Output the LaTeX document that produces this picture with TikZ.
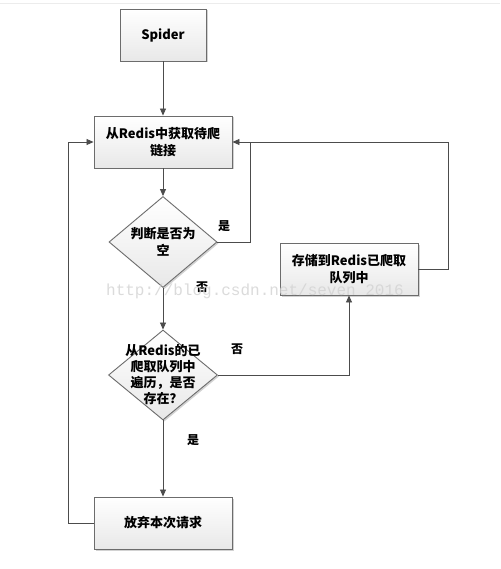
\documentclass[tikz,border=0pt]{standalone}
\usepackage{fontspec}
\setmainfont{Noto Sans CJK SC}
\newfontfamily\wmfont{Liberation Mono}
\usetikzlibrary{shapes.geometric,arrows.meta,shadows}
\begin{document}
\begin{tikzpicture}[x=1pt,y=-1pt,
  line width=0.8pt,
  base/.style={draw=gray!85!black, line width=0.9pt, top color=white, bottom color=gray!18,
    drop shadow={shadow xshift=1.5pt, shadow yshift=-1.5pt, opacity=0.35, fill=gray}},
  procbox/.style={base, rectangle, inner sep=0pt},
  decbox/.style={base, diamond, inner sep=0pt, minimum width=108pt, minimum height=91pt},
  txt/.style={font=\bfseries\fontsize{13}{17}\selectfont, align=center, text=black},
  lab/.style={font=\bfseries\fontsize{12}{14}\selectfont, text=black},
  conn/.style={draw=gray!60!black, line width=0.8pt},
  arr/.style={conn, -{Triangle[length=7pt,width=6pt]}}]
\useasboundingbox[fill=white] (0,0) rectangle (500,569);
\draw[gray!15, line width=0.6pt] (0,3) -- (500,3);

\node[procbox, minimum width=86pt, minimum height=52pt] (spider) at (163,35) {};
\node[txt] at (spider) {Spider};
\node[procbox, minimum width=138pt, minimum height=52pt] (fetch) at (163,142) {};
\node[txt] at (fetch) {从Redis中获取待爬\\链接};
\node[decbox] (d1) at (163,242) {};
\node[txt] at (d1) {判断是否为\\空};
\node[procbox, minimum width=138pt, minimum height=52pt] (store) at (349,269) {};
\node[txt] at (store) {存储到Redis已爬取\\队列中};
\node[decbox, minimum width=109pt, minimum height=90pt] (d2) at (163,375) {};
\node[txt, font=\bfseries\fontsize{13}{16}\selectfont] at (d2) {从Redis的已\\爬取队列中\\遍历，是否\\存在？};
\node[procbox, minimum width=138pt, minimum height=52pt] (drop) at (163,523) {};
\node[txt] at (drop) {放弃本次请求};

\coordinate (jr) at (250,142);
\coordinate (jl) at (68,523);

\draw[arr] (spider) -- (fetch);
\draw[arr] (fetch) -- (d1);
\draw[arr] (d1.east) -| (jr) -- (fetch.east);
\draw[conn] (store.east) -- ++(30,0) |- (jr);
\draw[arr] (d1) -- (d2);
\draw[arr] (d2.east) -| (store.south);
\draw[arr] (d2) -- (drop);
\draw[arr] (drop.west) -- (jl) |- (fetch.west);

\node[lab] (l1) at (224,226) {是};
\node[lab] (l2) at (202,287) {否};
\node[lab] (l3) at (237,349) {否};
\node[lab] (l4) at (193,440) {是};

\node[font=\wmfont\fontsize{16}{16}\selectfont, text=gray!35, opacity=0.8] (wm) at (255,291) {http://blog.csdn.net/seven\_2016};
\end{tikzpicture}
\end{document}
